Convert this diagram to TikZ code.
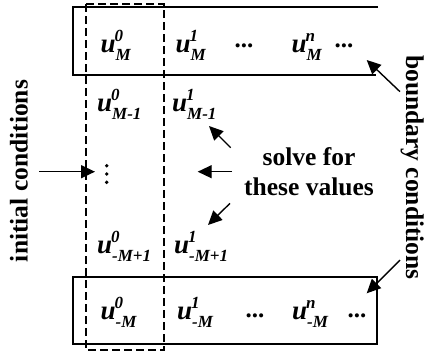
\documentclass[tikz,border=0pt]{standalone}
\usepackage{fontspec}
\setmainfont{Liberation Serif}
\usetikzlibrary{arrows.meta}
\newcommand\scr[1]{{\fontsize{17}{17}\selectfont #1}}
\newcommand\uv[2]{{\fontsize{27}{27}\selectfont\bfseries\itshape u\rlap{\hspace{-1pt}\raisebox{11pt}{\scr{#1}}}\raisebox{-8pt}{\scr{#2}}}}
\tikzset{
  val/.style={anchor=base west, inner sep=0pt},
  dotsnode/.style={anchor=base, inner sep=0pt, font=\fontsize{25}{25}\selectfont\bfseries},
  lbl/.style={inner sep=0pt, font=\fontsize{25.5}{30}\selectfont\bfseries, align=center},
  boxline/.style={line width=1.6pt},
  dashbox/.style={line width=1.5pt, dash pattern=on 8pt off 4pt},
  arr/.style={line width=1.4pt, -{Triangle[length=14pt,width=13pt]}},
}
\begin{document}
\begin{tikzpicture}[x=1pt,y=-1pt]
\useasboundingbox (0,0) rectangle (425,354);
% boxes
\draw[boxline] (378,7) -- (73,7) -- (73,75) -- (376,75);
\draw[boxline] (73,277) rectangle (377,344);
\draw[dashbox] (86,4) rectangle (164,350);
% row 1
\node[val] (a0) at (100.5,52) {\uv{0}{M}};
\node[val] (a1) at (175.5,52) {\uv{1}{M}};
\node[dotsnode] (ad1) at (244,47) {...};
\node[val] (an) at (291.5,52) {\uv{n}{M}};
\node[dotsnode] (ad2) at (344,47) {...};
% row 2
\node[val] (b0) at (97,111.5) {\uv{0}{M-1}};
\node[val] (b1) at (172,111.5) {\uv{1}{M-1}};
% vertical dots
\fill (106.7,165.7) circle (1.9) (106.7,174) circle (1.9) (106.7,182.3) circle (1.9);
\coordinate (vd) at (95,171.7);
% row 4
\node[val] (c0) at (97,253) {\uv{0}{-M+1}};
\node[val] (c1) at (174,253) {\uv{1}{-M+1}};
% row 5
\node[val] (d0) at (100.5,319) {\uv{0}{-M}};
\node[val] (d1) at (177,319) {\uv{1}{-M}};
\node[dotsnode] (dd1) at (255,317) {...};
\node[val] (dn) at (292,319) {\uv{n}{-M}};
\node[dotsnode] (dd2) at (357,317) {...};
% labels
\node[lbl] (solve) at (309,172) {solve for\\these values};
\node[lbl, rotate=90, anchor=south] (init) at (28,171) {initial conditions};
\node[lbl, rotate=-90, anchor=base] (bound) at (406,167.5) {boundary conditions};
% arrows
\coordinate (i0) at (39,171.7);
\coordinate (s0) at (232,171.7); \coordinate (s1) at (197.7,171.7);
\coordinate (u0) at (230.7,147.7); \coordinate (u1) at (209,126);
\coordinate (l0) at (230,203.3); \coordinate (l1) at (208,225);
\coordinate (t0) at (400,91.7); \coordinate (t1) at (366.7,60);
\coordinate (m0) at (400,260); \coordinate (m1) at (366.7,293.3);
\draw[arr] (i0) -- (vd);
\draw[arr] (s0) -- (s1);
\draw[arr] (u0) -- (u1);
\draw[arr] (l0) -- (l1);
\draw[arr] (t0) -- (t1);
\draw[arr] (m0) -- (m1);
\end{tikzpicture}
\end{document}
